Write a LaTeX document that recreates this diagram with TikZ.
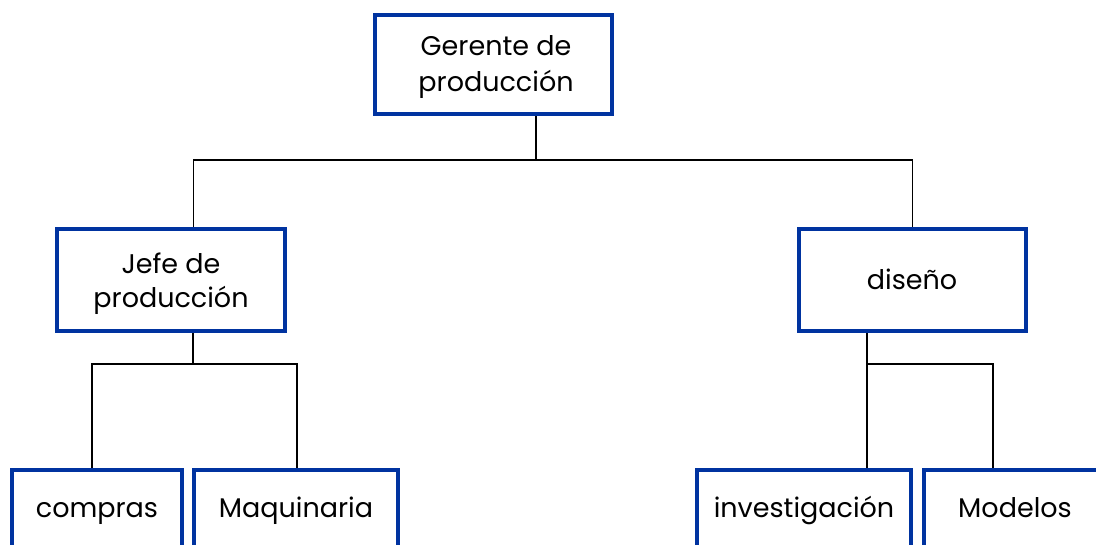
\documentclass[tikz,border=0pt]{standalone}
\usepackage{fontspec}
\setmainfont{Poppins}
\definecolor{boxblue}{HTML}{0033A0}
\begin{document}
\begin{tikzpicture}[x=1pt,y=-1pt,
  box/.style={draw=boxblue,line width=4.2pt,rectangle,inner sep=0pt},
  lbl/.style={anchor=base,inner sep=0pt,align=center,font=\fontsize{27}{36}\selectfont,text=black},
  conn/.style={draw=black,line width=1.4pt}]
\clip (0,0) rectangle (1096,544);
\useasboundingbox (0,0) rectangle (1096,544);
\fill[white] (0,0) rectangle (1096,544);
\node[box,minimum width=237,minimum height=99] (ger) at (493.5,64.5) {};
\node[box,minimum width=228,minimum height=102] (jefe) at (171,280) {};
\node[box,minimum width=227,minimum height=102] (dis) at (912.5,280) {};
\node[box,minimum width=170,minimum height=84,anchor=north] (com) at (97,468) {};
\node[box,minimum width=204,minimum height=84,anchor=north] (maq) at (296,468) {};
\node[box,minimum width=214,minimum height=84,anchor=north] (inv) at (804,468) {};
\node[box,minimum width=182,minimum height=84,anchor=north] (mod) at (1015,468) {};
\node[lbl] (gerA) at (496,55) {Gerente de};
\node[lbl] (gerB) at (496,91) {producción};
\node[lbl] (jefeA) at (171,273) {Jefe de};
\node[lbl] (jefeB) at (171,307) {producción};
\node[lbl] (disT) at (912,289) {diseño};
\node[lbl] (comT) at (97,517) {compras};
\node[lbl] (maqT) at (296,517) {Maquinaria};
\node[lbl] (invT) at (804,517) {investigación};
\node[lbl] (modT) at (1015,517) {Modelos};
\coordinate (t1) at (536,160);
\draw[conn] ([xshift=42.5]ger.south) -- (t1);
\draw[conn] ([xshift=22.5]jefe.north) |- (t1) -| (dis.north);
\coordinate (t2) at (193,364);
\draw[conn] ([xshift=22]jefe.south) -- (t2);
\draw[conn] ([xshift=-5]com.north) |- (t2) -| ([xshift=1]maq.north);
\coordinate (t3) at (867,364);
\draw[conn] ([xshift=-45.5]dis.south) -- (t3);
\draw[conn] ([xshift=63]inv.north) |- (t3) -| ([xshift=-22]mod.north);
\end{tikzpicture}
\end{document}
